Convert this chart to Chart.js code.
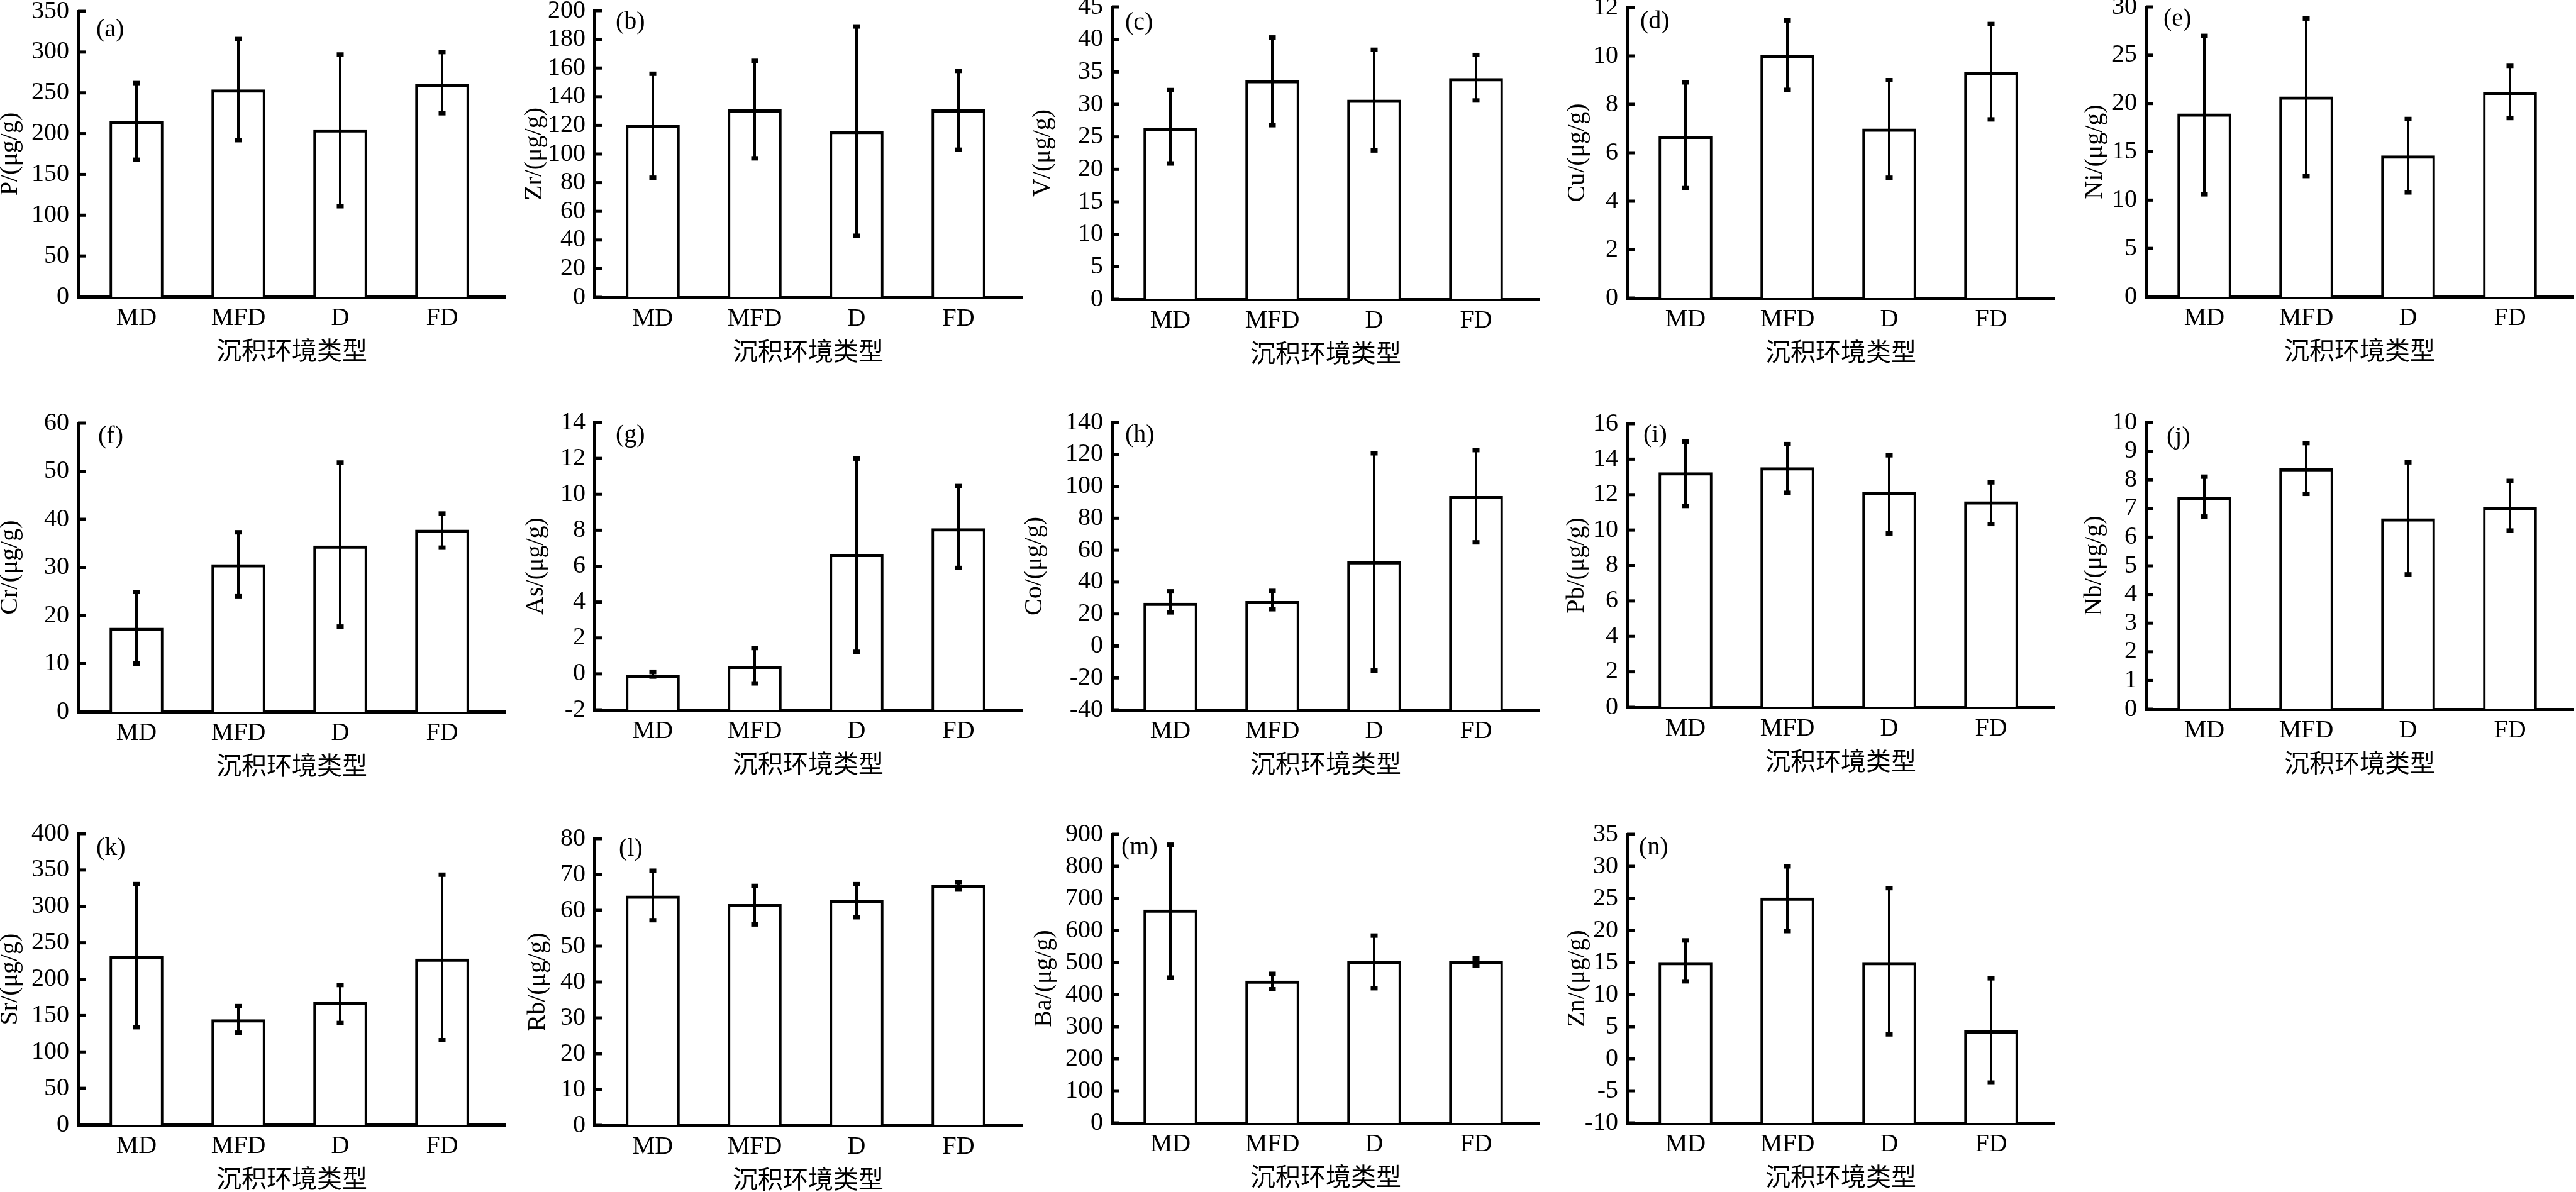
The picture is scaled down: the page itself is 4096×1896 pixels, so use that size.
<!DOCTYPE html>
<html><head><meta charset="utf-8">
<script src="https://cdn.jsdelivr.net/npm/chart.js@4.4.1/dist/chart.umd.min.js"></script>
<style>
html,body{margin:0;padding:0;background:#fff;width:4096px;height:1896px;overflow:hidden;position:relative}
canvas{position:absolute}
</style></head><body>
<script>
// ---------------- DATA ----------------
const categories = ['MD', 'MFD', 'D', 'FD'];
const xAxisTitle = '沉积环境类型';
const panelLetters = ['(a)','(b)','(c)','(d)','(e)','(f)','(g)','(h)','(i)','(j)','(k)','(l)','(m)','(n)'];
const yTitles = ['P/(μg/g)','Zr/(μg/g)','V/(μg/g)','Cu/(μg/g)','Ni/(μg/g)','Cr/(μg/g)','As/(μg/g)',
                 'Co/(μg/g)','Pb/(μg/g)','Nb/(μg/g)','Sr/(μg/g)','Rb/(μg/g)','Ba/(μg/g)','Zn/(μg/g)'];

// mean, lower error end, upper error end; axis = [min, max, step]
const P_mean  = [215, 254, 205, 261];      const P_low  = [168, 192, 111, 225];     const P_high  = [262, 316, 297, 300];     const P_axis  = [0, 350, 50];
const Zr_mean = [120, 131, 116, 131];      const Zr_low = [83.5, 97, 43, 103];      const Zr_high = [156, 165, 189, 158];     const Zr_axis = [0, 200, 20];
const V_mean  = [26.3, 33.7, 30.7, 34.0];  const V_low  = [20.9, 26.8, 22.9, 30.6]; const V_high  = [32.2, 40.3, 38.4, 37.6]; const V_axis  = [0, 45, 5];
const Cu_mean = [6.69, 10.03, 6.99, 9.33]; const Cu_low = [4.54, 8.6, 4.97, 7.38]; const Cu_high = [8.91, 11.47, 9.0, 11.32]; const Cu_axis = [0, 12, 2];
const Ni_mean = [18.95, 20.7, 14.6, 21.2]; const Ni_low = [10.6, 12.5, 10.8, 18.5]; const Ni_high = [27.0, 28.8, 18.4, 23.9]; const Ni_axis = [0, 30, 5];
const Cr_mean = [17.4, 30.6, 34.5, 37.8];  const Cr_low = [10.0, 24.0, 17.7, 34.1]; const Cr_high = [24.9, 37.3, 51.8, 41.2]; const Cr_axis = [0, 60, 10];
const As_mean = [-0.07, 0.44, 6.67, 8.1];  const As_low = [-0.15, -0.53, 1.23, 5.9]; const As_high = [0.12, 1.44, 11.99, 10.46]; const As_axis = [-2, 14, 2];
const Co_mean = [26.9, 28.0, 52.9, 93.8];  const Co_low = [21, 23, -15.4, 64.9];    const Co_high = [34.2, 34.5, 120.7, 122.7]; const Co_axis = [-40, 140, 20];
const Pb_mean = [13.25, 13.53, 12.16, 11.61]; const Pb_low = [11.36, 12.1, 9.81, 10.34]; const Pb_high = [14.99, 14.85, 14.22, 12.69]; const Pb_axis = [0, 16, 2];
const Nb_mean = [7.39, 8.40, 6.65, 7.05];  const Nb_low = [6.72, 7.51, 4.70, 6.23]; const Nb_high = [8.11, 9.28, 8.61, 7.96]; const Nb_axis = [0, 10, 1];
const Sr_mean = [231.5, 144.6, 168.2, 228]; const Sr_low = [134, 126.5, 139.8, 116.2]; const Sr_high = [330.6, 163, 192, 343.6]; const Sr_axis = [0, 400, 50];
const Rb_mean = [64.05, 61.7, 62.8, 67.0]; const Rb_low = [57.25, 56.07, 58.08, 65.8]; const Rb_high = [71.06, 66.8, 67.3, 67.9]; const Rb_axis = [0, 80, 10];
const Ba_mean = [664.6, 443, 503.5, 503.5]; const Ba_low = [453, 416.7, 419.8, 490.3]; const Ba_high = [867.5, 464.8, 584, 512.8]; const Ba_axis = [0, 900, 100];
const Zn_mean = [15.04, 25.1, 15.04, 4.37]; const Zn_low = [12.07, 19.9, 3.8, -3.73]; const Zn_high = [18.45, 30.0, 26.6, 12.54]; const Zn_axis = [-10, 35, 5];

const seriesMeans = [P_mean, Zr_mean, V_mean, Cu_mean, Ni_mean, Cr_mean, As_mean, Co_mean, Pb_mean, Nb_mean, Sr_mean, Rb_mean, Ba_mean, Zn_mean];
const seriesLows  = [P_low, Zr_low, V_low, Cu_low, Ni_low, Cr_low, As_low, Co_low, Pb_low, Nb_low, Sr_low, Rb_low, Ba_low, Zn_low];
const seriesHighs = [P_high, Zr_high, V_high, Cu_high, Ni_high, Cr_high, As_high, Co_high, Pb_high, Nb_high, Sr_high, Rb_high, Ba_high, Zn_high];
const seriesAxes  = [P_axis, Zr_axis, V_axis, Cu_axis, Ni_axis, Cr_axis, As_axis, Co_axis, Pb_axis, Nb_axis, Sr_axis, Rb_axis, Ba_axis, Zn_axis];

// ---------------- LAYOUT (not data) ----------------
const colX = [124, 945, 1768, 2587, 3412];
const panelLayout = [
  {col:0, top:18,   bottom:472,  tOff:108, lx:29, ly:29}, {col:1, top:17,   bottom:473,  tOff:95,  lx:34, ly:18},
  {col:2, top:11,   bottom:476,  tOff:110, lx:21, ly:25}, {col:3, top:12,   bottom:474,  tOff:79,  lx:21, ly:22},
  {col:4, top:11,   bottom:472,  tOff:81,  lx:28, ly:19},
  {col:0, top:673,  bottom:1132, tOff:108, lx:32, ly:21}, {col:1, top:672,  bottom:1129, tOff:93,  lx:34, ly:20},
  {col:2, top:672,  bottom:1129, tOff:123, lx:21, ly:20}, {col:3, top:674,  bottom:1125, tOff:80,  lx:26, ly:18},
  {col:4, top:672,  bottom:1128, tOff:82,  lx:33, ly:23},
  {col:0, top:1326, bottom:1789, tOff:108, lx:29, ly:23}, {col:1, top:1334, bottom:1790, tOff:90,  lx:39, ly:16},
  {col:2, top:1327, bottom:1786, tOff:108, lx:15, ly:21}, {col:3, top:1327, bottom:1786, tOff:79,  lx:19, ly:21}
];
const PLOT_W = 680, CAT_STEP = 162, FIRST_CENTER = 93;

const FONT = "'Liberation Serif','Times New Roman','Noto Sans CJK SC',serif";
Chart.defaults.font.family = FONT;
Chart.defaults.font.size = 40;
Chart.defaults.color = '#000';

const errPlugin = {
  id: 'errbars',
  afterDatasetsDraw(chart, args, opts) {
    const ctx = chart.ctx, ys = chart.scales.y, meta = chart.getDatasetMeta(0);
    ctx.save(); ctx.fillStyle = '#000';
    meta.data.forEach((bar, i) => {
      const yl = ys.getPixelForValue(opts.low[i]), yh = ys.getPixelForValue(opts.high[i]);
      ctx.fillRect(bar.x - 2, yh, 4, yl - yh);
      ctx.fillRect(bar.x - 5.5, yh - 3.5, 11, 7);
      ctx.fillRect(bar.x - 5.5, yl - 3.5, 11, 7);
    });
    ctx.restore();
  }
};
const tickPlugin = {
  id: 'innerTicks',
  afterDraw(chart) {
    const ctx = chart.ctx, ys = chart.scales.y, a = chart.chartArea;
    ctx.save(); ctx.fillStyle = '#000';
    ys.ticks.forEach(t => { const y = ys.getPixelForValue(t.value); ctx.fillRect(a.left, y - 2.5, 12, 5); });
    ctx.restore();
  }
};
const labelPlugin = {
  id: 'panelLabel',
  afterDraw(chart, args, opts) {
    const ctx = chart.ctx, a = chart.chartArea;
    ctx.save(); ctx.fillStyle = '#000'; ctx.font = '40px ' + FONT;
    ctx.textAlign = 'left'; ctx.textBaseline = 'middle';
    ctx.fillText(opts.text, a.left + opts.dx, a.top + opts.dy);
    ctx.restore();
  }
};
Chart.register(errPlugin, tickPlugin, labelPlugin);

function makePanel(idx) {
  const L = panelLayout[idx];
  const axis = seriesAxes[idx];
  const scaleW = L.tOff + 24, padTop = 40, padRight = 12, xH = 113;
  const W = scaleW + PLOT_W + padRight, H = padTop + (L.bottom - L.top) + xH;
  const cv = document.createElement('canvas');
  cv.width = W; cv.height = H;
  cv.style.width = W + 'px'; cv.style.height = H + 'px';
  cv.style.left = (colX[L.col] - scaleW) + 'px';
  cv.style.top = (L.top - padTop) + 'px';
  document.body.appendChild(cv);
  const xmin = -FIRST_CENTER / CAT_STEP, xmax = xmin + PLOT_W / CAT_STEP;
  new Chart(cv, {
    type: 'bar',
    data: {
      datasets: [{
        data: seriesMeans[idx].map((v, i) => ({x: i, y: v})),
        base: axis[0],
        backgroundColor: '#fff', borderColor: '#000',
        borderWidth: {top: 5, left: 4, right: 4, bottom: 0},
        barThickness: 85
      }]
    },
    options: {
      responsive: false, animation: false, devicePixelRatio: 1,
      layout: {padding: {top: padTop, right: padRight, left: 0, bottom: 0}},
      plugins: {
        legend: {display: false}, tooltip: {enabled: false},
        errbars: {low: seriesLows[idx], high: seriesHighs[idx]},
        panelLabel: {text: panelLetters[idx], dx: L.lx, dy: L.ly}
      },
      scales: {
        x: {
          type: 'linear', min: xmin, max: xmax, offset: false,
          grid: {display: false, drawTicks: false, offset: false},
          border: {display: true, color: '#000', width: 5},
          afterBuildTicks: s => { s.ticks = categories.map((c, i) => ({value: i})); },
          ticks: {callback: v => categories[v], padding: 10, maxRotation: 0, autoSkip: false, font: {size: 40}},
          title: {display: true, text: xAxisTitle, font: {size: 40}, padding: 0},
          afterFit: s => { s.height = xH; }
        },
        y: {
          min: axis[0], max: axis[1],
          ticks: {stepSize: axis[2], padding: 14, autoSkip: false, font: {size: 40}},
          grid: {display: false, drawTicks: false},
          border: {display: true, color: '#000', width: 5},
          title: {display: true, text: yTitles[idx], font: {size: 40}, padding: 0},
          afterFit: s => { s.width = scaleW; }
        }
      }
    }
  });
}
for (let i = 0; i < 14; i++) makePanel(i);
</script>
</body></html>
